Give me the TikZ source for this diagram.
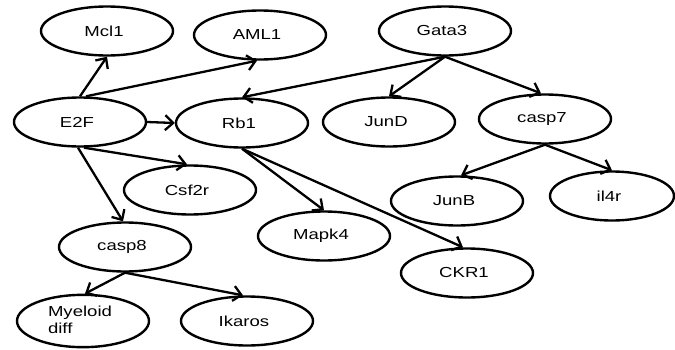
\documentclass[tikz,border=0pt]{standalone}
\usepackage{fontspec}
\setmainfont{Liberation Sans}
\usetikzlibrary{arrows.meta,shapes.geometric}
\tikzset{
  gene/.style={draw, ellipse, line width=2.4pt, minimum width=132pt, minimum height=49pt, inner sep=0pt,
    font=\fontsize{14.5}{20}\selectfont},
  edge/.style={line width=2.3pt, -{Straight Barb[length=8pt,width=15pt]}}
}
\newcommand{\lbl}[1]{\scalebox{1.28}[1]{#1}\hspace*{6pt}}
\begin{document}
\begin{tikzpicture}[x=1pt,y=-1pt]
\useasboundingbox (0,0) rectangle (675,349);
\node[gene] (Mcl1) at (107,31) {\lbl{Mcl1}};
\node[gene] (AML1) at (260,35) {\lbl{AML1}};
\node[gene] (Gata3) at (445,31) {\lbl{Gata3}};
\node[gene] (E2F) at (80,122) {\lbl{E2F}};
\node[gene] (Rb1) at (242,123) {\lbl{Rb1}};
\node[gene] (JunD) at (389,122) {\lbl{JunD}};
\node[gene] (casp7) at (545,119) {\lbl{casp7}};
\node[gene] (Csf2r) at (190,190) {\lbl{Csf2r}};
\node[gene] (casp8) at (125,247) {\lbl{casp8}};
\node[gene] (Mapk4) at (324,236) {\lbl{Mapk4}};
\node[gene] (JunB) at (457,201) {\lbl{JunB}};
\node[gene, minimum width=124pt] (il4r) at (612,196) {\lbl{il4r}};
\node[gene] (CKR1) at (467,273) {\lbl{CKR1}};
\node[gene] (Myeloid) at (83,321) {\scalebox{1.28}[1]{\begin{tabular}{@{}l@{}}Myeloid\\[-3pt]diff\end{tabular}}\hspace*{6pt}};
\node[gene] (Ikaros) at (247,321) {\lbl{Ikaros}};

\draw[edge] (E2F.north) -- (Mcl1.south);
\draw[edge] ([xshift=6pt]E2F.north) -- ([xshift=-3pt]AML1.south);
\draw[edge] (E2F.east) -- (Rb1.west);
\draw[edge] ([xshift=4pt]E2F.south) -- ([xshift=-3pt]Csf2r.north);
\draw[edge] ([xshift=-2pt]E2F.south) -- ([xshift=-2pt]casp8.north);
\draw[edge] (Gata3.south) -- (Rb1.north);
\draw[edge] (Gata3.south) -- (JunD.north);
\draw[edge] (Gata3.south) -- ([xshift=-4pt]casp7.north);
\draw[edge] (casp7.south) -- ([xshift=4pt]JunB.north);
\draw[edge] (casp7.south) -- (il4r.north);
\draw[edge] (Rb1.south) -- (Mapk4.north);
\draw[edge] (Rb1.south) -- ([xshift=-4pt]CKR1.north);
\draw[edge] (casp8.south) -- ([xshift=2pt]Myeloid.north);
\draw[edge] (casp8.south) -- ([xshift=-4pt]Ikaros.north);
\end{tikzpicture}
\end{document}
